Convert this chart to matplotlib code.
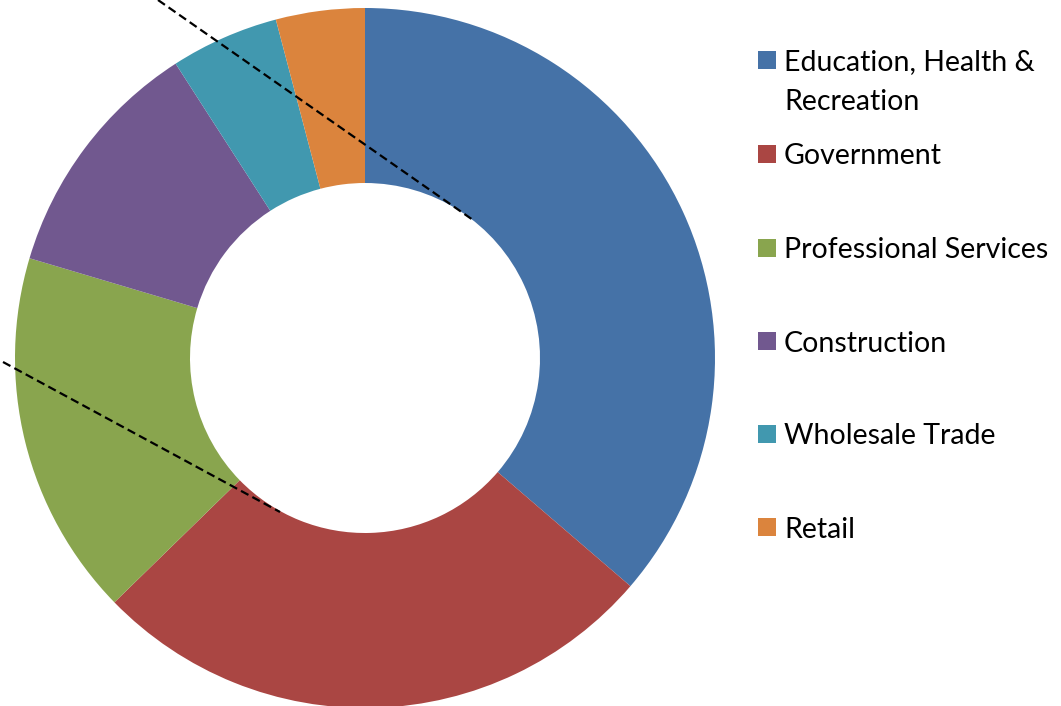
import matplotlib
matplotlib.use("Agg")
import matplotlib.pyplot as plt
from matplotlib.patches import Rectangle

categories = ["Education, Health &\nRecreation", "Government", "Professional Services",
              "Construction", "Wholesale Trade", "Retail"]
values = [36.3, 26.4, 16.9, 11.3, 5.0, 4.1]
colors = ["#4572A7", "#AA4643", "#89A54E", "#71588F", "#4198AF", "#DB843D"]

W, H = 1061, 706
fig = plt.figure(figsize=(W / 100, H / 100), dpi=100)
ax = fig.add_axes([0, 0, 1, 1])

ax.pie(values, colors=colors, startangle=90, counterclock=False,
       center=(365, H - 358), radius=350,
       wedgeprops=dict(width=175, linewidth=0))

# dashed lines
ax.plot([158, 473], [H - 0, H - 220], color="black", linestyle=(0, (3.8, 2.0)), linewidth=1.6)
ax.plot([3, 280], [H - 362, H - 512], color="black", linestyle=(0, (3.8, 2.0)), linewidth=1.6)

ax.set_xlim(0, W)
ax.set_ylim(0, H)
ax.set_aspect("equal")
ax.axis("off")

# legend
centers = [60, 154, 247.5, 341, 434, 527]
for lab, col, cy in zip(categories, colors, centers):
    ax.add_patch(Rectangle((758, H - cy - 9), 18, 18, facecolor=col, edgecolor="none"))
    for i, line in enumerate(lab.split("\n")):
        ax.text(784, H - (cy + i * 39), line, fontsize=20.5, family="Lato",
                va="center_baseline", ha="left", color="black")

fig.savefig("out.png", dpi=100)
